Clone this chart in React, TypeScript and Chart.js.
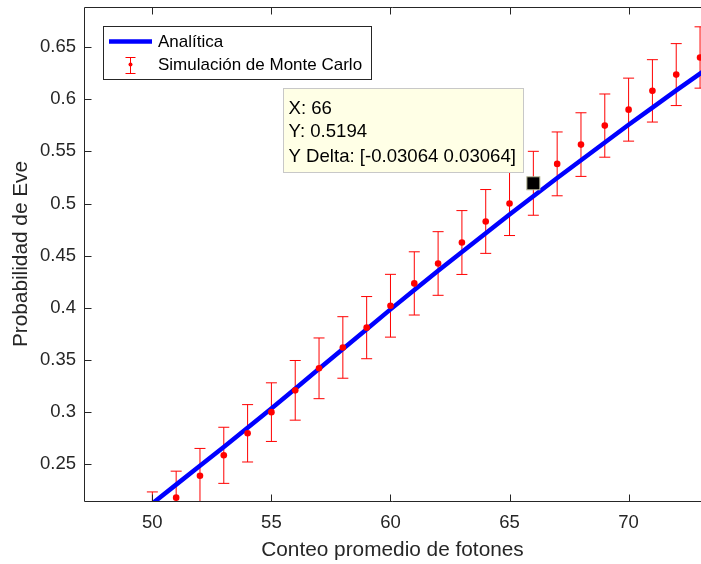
import React, { useEffect, useRef } from "react";
import { Chart, registerables } from "chart.js";

Chart.register(...registerables);

// ---- data ----
const mcX = [50, 51, 52, 53, 54, 55, 56, 57, 58, 59, 60, 61, 62, 63, 64, 65, 66, 67, 68, 69, 70, 71, 72, 73];
const mcY = [0.199, 0.218, 0.239, 0.2586, 0.2797, 0.3, 0.3209, 0.342, 0.362, 0.381, 0.402, 0.4234, 0.4425, 0.4626, 0.4828, 0.5, 0.5194, 0.538, 0.5565, 0.5747, 0.59, 0.608, 0.6236, 0.64];
const mcErr = [0.0245, 0.0254, 0.0262, 0.0269, 0.0275, 0.0281, 0.0286, 0.0291, 0.0295, 0.0298, 0.0301, 0.0303, 0.0305, 0.0306, 0.0306, 0.0307, 0.03064, 0.0306, 0.0305, 0.0303, 0.0302, 0.0299, 0.0297, 0.0294];

const anX = [49, 50, 51, 52, 53, 54, 55, 56, 57, 58, 59, 60, 61, 62, 63, 64, 65, 66, 67, 68, 69, 70, 71, 72, 73, 74];
const anY = [0.194, 0.2124, 0.2305, 0.2485, 0.2665, 0.285, 0.3035, 0.3225, 0.3415, 0.3605, 0.3795, 0.3985, 0.417, 0.4355, 0.4535, 0.4715, 0.4895, 0.507, 0.5245, 0.5415, 0.5585, 0.5755, 0.592, 0.6085, 0.6245, 0.6405];

const xTicks = [50, 55, 60, 65, 70];
const yTicks = [0.25, 0.3, 0.35, 0.4, 0.45, 0.5, 0.55, 0.6, 0.65];
const xRange = [47.13, 73.04];
const yRange = [0.2148, 0.6884];

const tipX = 66;
const tipY = 0.5194;
const tipDelta = 0.03064;

const legendLabels = ["Analítica", "Simulación de Monte Carlo"];
const xTitle = "Conteo promedio de fotones";
const yTitle = "Probabilidad de Eve";

const FONT = "'Liberation Sans', Arial, Helvetica, sans-serif";
const AXIS = "#262626";
const RED = "#ff0000";
const BLUE = "#0000ff";

const overlay = {
  id: "overlay",
  beforeDatasetsDraw(chart: any) {
    const { ctx, chartArea: a, scales } = chart;
    const xs = scales.x;
    const ys = scales.y;
    ctx.save();
    ctx.beginPath();
    ctx.rect(a.left, a.top, a.right - a.left, a.bottom - a.top);
    ctx.clip();
    ctx.strokeStyle = RED;
    ctx.lineWidth = 1;
    for (let i = 0; i < mcX.length; i++) {
      const px = xs.getPixelForValue(mcX[i]);
      const pt = ys.getPixelForValue(mcY[i] + mcErr[i]);
      const pb = ys.getPixelForValue(mcY[i] - mcErr[i]);
      ctx.beginPath();
      ctx.moveTo(px, pt);
      ctx.lineTo(px, pb);
      ctx.moveTo(px - 5.5, pt);
      ctx.lineTo(px + 5.5, pt);
      ctx.moveTo(px - 5.5, pb);
      ctx.lineTo(px + 5.5, pb);
      ctx.stroke();
    }
    ctx.restore();
  },
  afterDraw(chart: any) {
    const { ctx, chartArea: a, scales } = chart;
    const xs = scales.x;
    const ys = scales.y;
    ctx.save();
    // axes box (left, bottom, top)
    ctx.strokeStyle = AXIS;
    ctx.lineWidth = 1;
    const L = Math.round(a.left) + 0.5;
    const B = Math.round(a.bottom) + 0.5;
    const T = Math.round(a.top) + 0.5;
    ctx.beginPath();
    ctx.moveTo(L, T);
    ctx.lineTo(L, B);
    ctx.lineTo(a.right, B);
    ctx.moveTo(L, T);
    ctx.lineTo(a.right, T);
    // ticks inward
    for (const v of xTicks) {
      const px = Math.round(xs.getPixelForValue(v)) + 0.5;
      ctx.moveTo(px, B);
      ctx.lineTo(px, B - 7);
      ctx.moveTo(px, T);
      ctx.lineTo(px, T + 7);
    }
    for (const v of yTicks) {
      const py = Math.round(ys.getPixelForValue(v)) + 0.5;
      ctx.moveTo(L, py);
      ctx.lineTo(L + 7, py);
    }
    ctx.stroke();

    // legend
    const lx = 103.5, ly = 26.5, lw = 268, lh = 53;
    ctx.fillStyle = "#ffffff";
    ctx.fillRect(lx, ly, lw, lh);
    ctx.strokeStyle = AXIS;
    ctx.strokeRect(lx, ly, lw, lh);
    ctx.strokeStyle = BLUE;
    ctx.lineWidth = 4.5;
    ctx.beginPath();
    ctx.moveTo(109, 41.5);
    ctx.lineTo(152, 41.5);
    ctx.stroke();
    ctx.strokeStyle = RED;
    ctx.lineWidth = 1;
    ctx.beginPath();
    ctx.moveTo(130.5, 57);
    ctx.lineTo(130.5, 74);
    ctx.moveTo(125.5, 57.5);
    ctx.lineTo(135.5, 57.5);
    ctx.moveTo(125.5, 73.5);
    ctx.lineTo(135.5, 73.5);
    ctx.stroke();
    ctx.fillStyle = RED;
    ctx.beginPath();
    ctx.arc(130.5, 64.5, 2, 0, Math.PI * 2);
    ctx.fill();
    ctx.fillStyle = "#000000";
    ctx.font = `17px ${FONT}`;
    ctx.textBaseline = "middle";
    ctx.textAlign = "left";
    ctx.fillText(legendLabels[0], 158, 42);
    ctx.fillText(legendLabels[1], 158, 65);

    // datatip
    const tx = xs.getPixelForValue(tipX);
    const ty = ys.getPixelForValue(tipY);
    ctx.fillStyle = "#000000";
    ctx.strokeStyle = "#b9b99a";
    ctx.lineWidth = 1;
    ctx.fillRect(tx - 6.5, ty - 6.5, 13, 13);
    ctx.strokeRect(tx - 6.5, ty - 6.5, 13, 13);
    const lines = [`X: ${tipX}`, `Y: ${tipY}`, `Y Delta: [-${tipDelta} ${tipDelta}]`];
    ctx.font = `18.6px ${FONT}`;
    let tw = 0;
    for (const s of lines) tw = Math.max(tw, ctx.measureText(s).width);
    const bw = Math.round(tw + 13);
    const bh = 84;
    const bx = Math.round(tx - 10 - bw) + 0.5;
    const by = Math.round(ty - 11 - bh) + 0.5;
    ctx.fillStyle = "#ffffe6";
    ctx.fillRect(bx, by, bw, bh);
    ctx.strokeStyle = "#c8c8c8";
    ctx.strokeRect(bx, by, bw, bh);
    ctx.fillStyle = "#000000";
    ctx.textBaseline = "middle";
    ctx.fillText(lines[0], bx + 5, by + 20);
    ctx.fillText(lines[1], bx + 5, by + 43);
    ctx.fillText(lines[2], bx + 5, by + 68);
    ctx.restore();
  },
};

export default function App() {
  const ref = useRef<HTMLCanvasElement | null>(null);
  useEffect(() => {
    document.body.style.margin = "0";
    const canvas = ref.current;
    if (!canvas) return;
    const chart = new Chart(canvas, {
      type: "scatter",
      data: {
        datasets: [
          {
            label: legendLabels[0],
            data: anX.map((x, i) => ({ x, y: anY[i] })),
            showLine: true,
            borderColor: BLUE,
            backgroundColor: BLUE,
            borderWidth: 4.5,
            pointRadius: 0,
            order: 2,
          },
          {
            label: legendLabels[1],
            data: mcX.map((x, i) => ({ x, y: mcY[i] })),
            showLine: false,
            pointRadius: 3.3,
            pointBackgroundColor: RED,
            pointBorderColor: RED,
            pointBorderWidth: 0,
            order: 1,
          },
        ],
      },
      options: {
        animation: false,
        responsive: false,
        devicePixelRatio: 1,
        layout: { autoPadding: false, padding: { top: 7, right: 0, left: 0, bottom: 0 } },
        plugins: { legend: { display: false }, tooltip: { enabled: false } },
        scales: {
          x: {
            type: "linear",
            min: xRange[0],
            max: xRange[1],
            afterBuildTicks: (s: any) => {
              s.ticks = xTicks.map((v) => ({ value: v }));
            },
            afterFit: (s: any) => {
              s.height = 63;
              s.paddingLeft = 0;
              s.paddingRight = 0;
            },
            grid: { display: false, drawTicks: false },
            border: { display: false },
            ticks: {
              color: AXIS,
              font: { family: FONT, size: 18.5 },
              padding: 11,
              maxRotation: 0,
              callback: (v: any) => String(v),
            },
            title: {
              display: true,
              text: xTitle,
              color: AXIS,
              font: { family: FONT, size: 20.8 },
              padding: { top: 0, bottom: 1 },
            },
          },
          y: {
            type: "linear",
            min: yRange[0],
            max: yRange[1],
            afterBuildTicks: (s: any) => {
              s.ticks = yTicks.map((v) => ({ value: v }));
            },
            afterFit: (s: any) => {
              s.width = 84;
              s.paddingTop = 0;
              s.paddingBottom = 0;
            },
            grid: { display: false, drawTicks: false },
            border: { display: false },
            ticks: {
              color: AXIS,
              font: { family: FONT, size: 18.5 },
              padding: 8,
              callback: (v: any) => String(Number(v.toFixed(2))),
            },
            title: {
              display: true,
              text: yTitle,
              color: AXIS,
              font: { family: FONT, size: 20.8 },
              padding: { top: 9, bottom: 0 },
            },
          },
        },
      },
      plugins: [overlay],
    });
    return () => chart.destroy();
  }, []);
  return <canvas ref={ref} width={701} height={564} style={{ display: "block" }} />;
}
